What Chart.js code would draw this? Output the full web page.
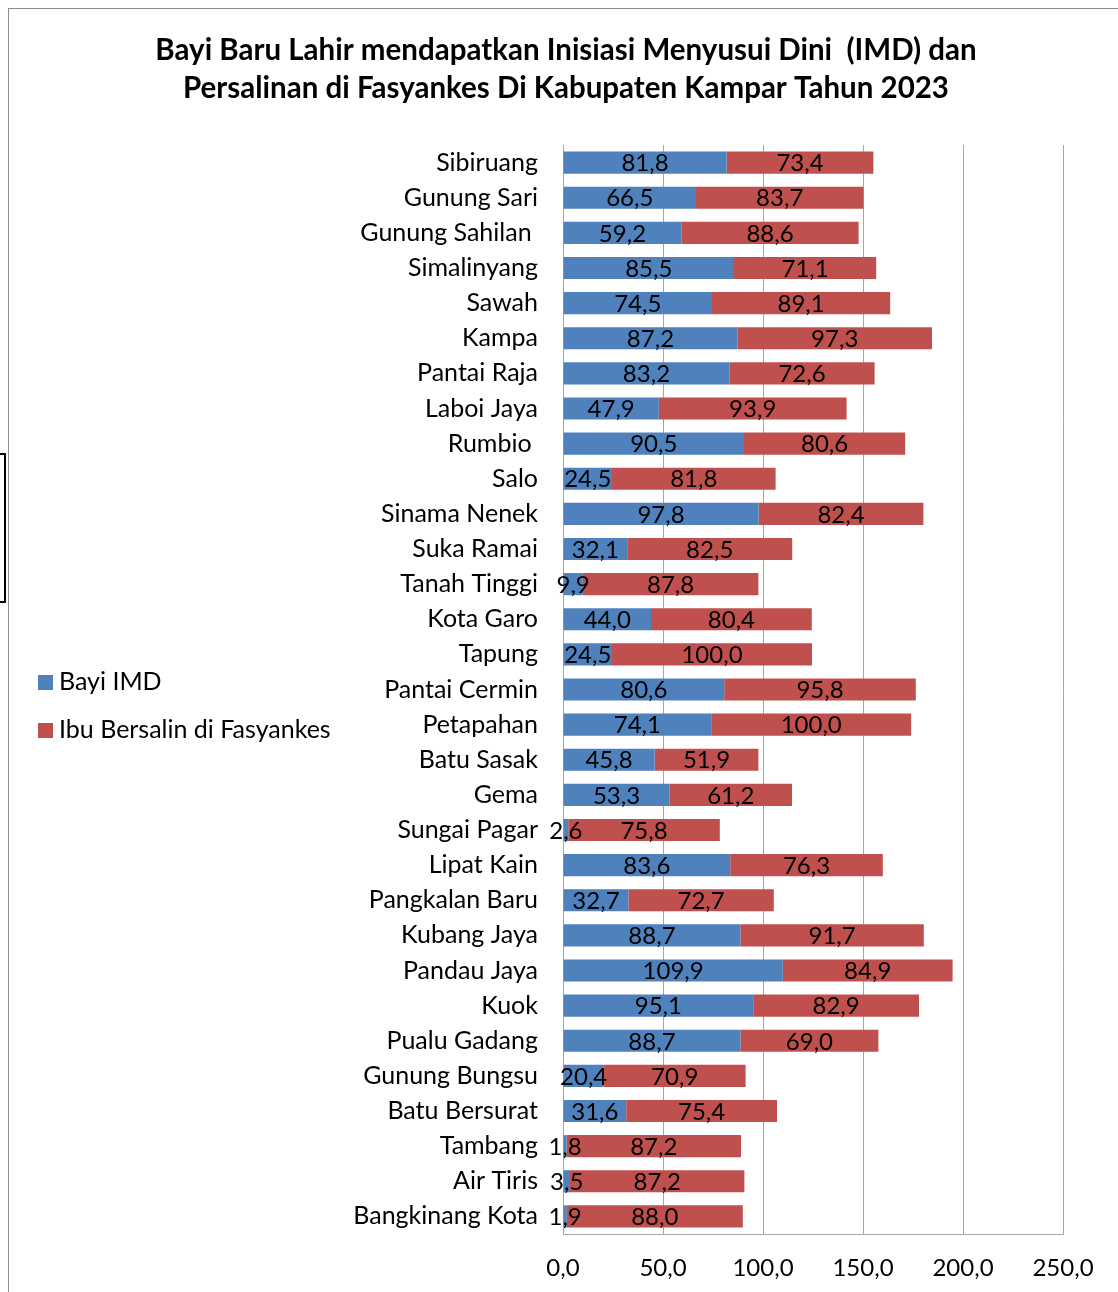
<!DOCTYPE html>
<html><head><meta charset="utf-8">
<script src="https://cdn.jsdelivr.net/npm/chart.js@4/dist/chart.umd.min.js"></script>
<style>
html,body{margin:0;padding:0;background:#fff;overflow:hidden}
#wrap{position:relative;width:1118px;height:1292px;overflow:hidden}
canvas{position:absolute;left:0;top:0}
.frame{position:absolute;left:8px;top:8px;width:1300px;height:1400px;border-left:1px solid #8c8c8c;border-top:1px solid #8c8c8c}
.blk{position:absolute;left:-10px;top:453px;width:12px;height:146px;border:2px solid #000}
</style></head>
<body>
<div id="wrap">
<canvas id="c" width="1118" height="1292"></canvas>
<div class="frame"></div>
<div class="blk"></div>
</div>
<script>
const titleLines = ["Bayi Baru Lahir mendapatkan Inisiasi Menyusui Dini  (IMD) dan",
                    "Persalinan di Fasyankes Di Kabupaten Kampar Tahun 2023"];
const categories = ["Sibiruang","Gunung Sari","Gunung Sahilan ","Simalinyang","Sawah","Kampa","Pantai Raja","Laboi Jaya","Rumbio ","Salo","Sinama Nenek","Suka Ramai","Tanah Tinggi","Kota Garo","Tapung","Pantai Cermin","Petapahan","Batu Sasak","Gema","Sungai Pagar","Lipat Kain","Pangkalan Baru","Kubang Jaya","Pandau Jaya","Kuok","Pualu Gadang","Gunung Bungsu","Batu Bersurat","Tambang","Air Tiris","Bangkinang Kota"];
const bayiIMD = [81.8,66.5,59.2,85.5,74.5,87.2,83.2,47.9,90.5,24.5,97.8,32.1,9.9,44.0,24.5,80.6,74.1,45.8,53.3,2.6,83.6,32.7,88.7,109.9,95.1,88.7,20.4,31.6,1.8,3.5,1.9];
const ibuBersalin = [73.4,83.7,88.6,71.1,89.1,97.3,72.6,93.9,80.6,81.8,82.4,82.5,87.8,80.4,100.0,95.8,100.0,51.9,61.2,75.8,76.3,72.7,91.7,84.9,82.9,69.0,70.9,75.4,87.2,87.2,88.0];
const seriesNames = ["Bayi IMD","Ibu Bersalin di Fasyankes"];
const xTicks = [0,50,100,150,200,250];

const FONT = "Lato, Calibri, Carlito, sans-serif";
const fmt = v => v.toFixed(1).replace('.', ',');

const extras = {
  id: 'extras',
  afterDraw(chart) {
    const ctx = chart.ctx;
    ctx.save();
    // title
    ctx.fillStyle = '#000';
    ctx.font = "bold 29.5px " + FONT;
    ctx.textAlign = 'center';
    ctx.textBaseline = 'middle';
    ctx.fillText(titleLines[0], 566, 50);
    ctx.fillText(titleLines[1], 566, 88);
    // data labels
    ctx.font = "24px " + FONT;
    chart.data.datasets.forEach((ds, i) => {
      const meta = chart.getDatasetMeta(i);
      meta.data.forEach((el, j) => {
        const cx = (el.x + el.base) / 2;
        ctx.fillText(fmt(ds.data[j]), cx, el.y + 1);
      });
    });
    // legend
    ctx.textAlign = 'left';
    ctx.font = "25px " + FONT;
    const ly = [682, 730];
    chart.data.datasets.forEach((ds, i) => {
      ctx.fillStyle = ds.backgroundColor;
      ctx.fillRect(38, ly[i] - 7, 15, 15);
      ctx.fillStyle = '#000';
      ctx.fillText(ds.label, 59, ly[i]);
    });
    ctx.restore();
  }
};

new Chart(document.getElementById('c'), {
  type: 'bar',
  data: {
    labels: categories,
    datasets: [
      { label: seriesNames[0], data: bayiIMD, backgroundColor: '#4F81BD', borderWidth: 0 },
      { label: seriesNames[1], data: ibuBersalin, backgroundColor: '#C0504D', borderWidth: 0 }
    ]
  },
  options: {
    indexAxis: 'y',
    responsive: false,
    animation: false,
    devicePixelRatio: 1,
    layout: { padding: { top: 145, right: 55, bottom: 0, left: 0 } },
    datasets: { bar: { categoryPercentage: 1, barPercentage: 0.63 } },
    plugins: { legend: { display: false }, title: { display: false }, tooltip: { enabled: false } },
    scales: {
      x: {
        stacked: true, min: 0, max: 250,
        afterBuildTicks(scale) { scale.ticks = xTicks.map(v => ({ value: v })); },
        afterFit(scale) { scale.height = 58; },
        ticks: { callback: v => fmt(v), color: '#000', font: { family: FONT, size: 24 }, padding: 20, maxRotation: 0 },
        grid: { color: '#a6a6a6', lineWidth: 1, drawTicks: false },
        border: { color: '#a6a6a6' }
      },
      y: {
        stacked: true,
        afterFit(scale) { scale.width = 563; },
        ticks: { color: '#000', font: { family: FONT, size: 25 }, padding: 25, autoSkip: false },
        grid: { display: false, drawTicks: false },
        border: { color: '#a6a6a6' }
      }
    }
  },
  plugins: [extras]
});
</script>
</body></html>
